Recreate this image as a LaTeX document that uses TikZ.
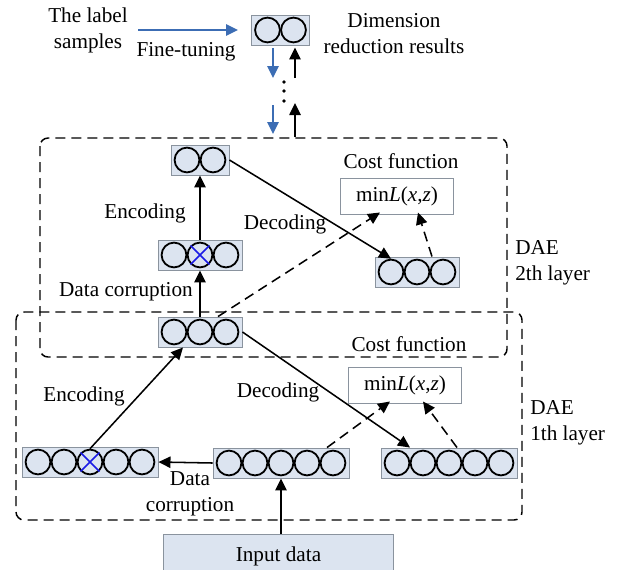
\documentclass[tikz,border=0pt]{standalone}
\usepackage{fontspec}
\setmainfont{Liberation Serif}
\usetikzlibrary{arrows.meta,calc}

\definecolor{boxfill}{HTML}{DCE4F0}
\definecolor{boxline}{HTML}{8A939E}
\definecolor{tuneblue}{HTML}{3C6DB4}
\definecolor{crossblue}{HTML}{1A1AE6}

\tikzset{
  cellframe/.style={rectangle, draw=boxline, fill=boxfill, line width=0.7pt,
    minimum height=22.5pt, inner sep=0pt},
  cell/.style={circle, draw=black, fill=boxfill, line width=1.35pt,
    minimum size=18.6pt, inner sep=0pt},
  costbox/.style={rectangle, draw=boxline, fill=white, line width=0.7pt,
    minimum width=84.5pt, minimum height=27pt, inner sep=0pt},
  inputbox/.style={rectangle, draw=boxline, fill=boxfill, line width=0.7pt,
    minimum width=173pt, minimum height=33pt, inner sep=0pt},
  lbl/.style={inner sep=0pt, align=center},
  tip/.style={-{Triangle[length=9pt,width=8.5pt]}},
  arr/.style={line width=1.15pt, tip},
  darr/.style={arr, dash pattern=on 7.5pt off 4.5pt},
  barr/.style={line width=1.15pt, draw=tuneblue, fill=tuneblue, tip},
  layerbox/.style={line width=1.1pt, dash pattern=on 7.5pt off 4.5pt, rounded corners=6pt},
}

% a framed row of #4 neurons named #1-1 ... #1-#4
\newcommand{\cellbox}[4]{%
  \node[cellframe, minimum width={#4*19.5pt+4.5pt}] (#1) at (#2,#3) {};
  \foreach \k in {1,...,#4}{
    \node[cell] (#1-\k) at ($(#1.center)+({(\k-(#4+1)/2)*26},0)$) {};
  }%
}

\begin{document}
\begin{tikzpicture}[x=0.75pt, y=-0.75pt, font=\fontsize{15.9}{19.5}\selectfont]
\useasboundingbox (0,0) rectangle (617,569);

% DAE layer frames
\draw[layerbox] (40,138) rectangle (507,357);
\draw[layerbox] (16,312) rectangle (522,520);

% neuron rows
\cellbox{T}{280.5}{30}{2}
\cellbox{U2}{200}{160}{2}
\cellbox{UM}{200}{255}{3}
\cellbox{UR}{417}{272}{3}
\cellbox{S}{200}{332}{3}
\cellbox{LL}{90}{462}{5}
\cellbox{LM}{281}{463}{5}
\cellbox{LR}{449}{463}{5}

% corrupted neurons
\draw[crossblue, line width=1.3pt] (UM-2.45) -- (UM-2.225) (UM-2.135) -- (UM-2.315);
\draw[crossblue, line width=1.3pt] (LL-3.45) -- (LL-3.225) (LL-3.135) -- (LL-3.315);

% cost function boxes
\node[costbox] (UC) at (397,196) {min\textit{L}(\textit{x},\textit{z})};
\node[costbox] (LC) at (405,385) {min\textit{L}(\textit{x},\textit{z})};

% input
\node[inputbox] (IN) at (278.5,556) {Input data};

% text labels
\node[lbl] (tl) at (88,30) {The label\\samples};
\node[lbl] (ft) at (186,52) {Fine-tuning};
\node[lbl] (dr) at (394,34) {Dimension\\reduction results};
\node[lbl] (cf2) at (401,161) {Cost function};
\node[lbl] (en2) at (145,213) {Encoding};
\node[lbl] (de2) at (285,224) {Decoding};
\node[lbl] (dc2) at (126,292) {Data corruption};
\node[lbl, align=left, anchor=west] (dae2) at (515,263) {DAE\\2th layer};
\node[lbl] (cf1) at (409,344) {Cost function};
\node[lbl] (en1) at (84,396) {Encoding};
\node[lbl] (de1) at (278,392) {Decoding};
\node[lbl, align=left, anchor=west] (dae1) at (530,423) {DAE\\1th layer};
\node[lbl] (dc1) at (190,494) {Data\\corruption};

% fine-tuning and stacking arrows
\coordinate (ftstart) at (138,30);
\draw[barr] (ftstart) -- ($(T.west)+(-13,0)$);
\coordinate (bd1) at (273,78);
\coordinate (bu1) at (295,78);
\coordinate (bd2s) at (273,105);
\coordinate (bd2e) at (273,134);
\coordinate (bu2s) at (295,137);
\coordinate (bu2e) at (295,103);
\draw[barr] ($(T.south)+(-7.5,3)$) -- (bd1);
\draw[arr] (bu1) -- ($(T.south)+(14.5,2)$);
\draw[barr] (bd2s) -- (bd2e);
\draw[arr] (bu2s) -- (bu2e);
\foreach \yy in {82,91,101} \fill (284,\yy) circle (1.4pt);

% second layer
\draw[arr] (S.north) -- (UM.south);
\draw[arr] (UM.north) -- (U2.south);
\draw[arr] (U2.east) -- (UR-1.north);
\draw[darr] ($(S.north)+(18,0)$) -- ($(UC.south)+(-17,-2)$);
\draw[darr] ($(UR.north)+(15,0)$) -- ($(UC.south)+(21,-2)$);

% first layer
\draw[arr] (IN.north -| LM.south) -- (LM.south);
\draw[arr] (LM.west) -- (LL.east);
\draw[arr] (LL-3.north) -- ($(S.south)+(-17,0)$);
\draw[arr] (S.east) -- ($(LR.north)+(-39,0)$);
\draw[darr] ($(LM.north)+(46,0)$) -- ($(LC.south)+(-15,-2)$);
\draw[darr] ($(LR.north)+(8,0)$) -- ($(LC.south)+(18,-2)$);
\end{tikzpicture}
\end{document}
